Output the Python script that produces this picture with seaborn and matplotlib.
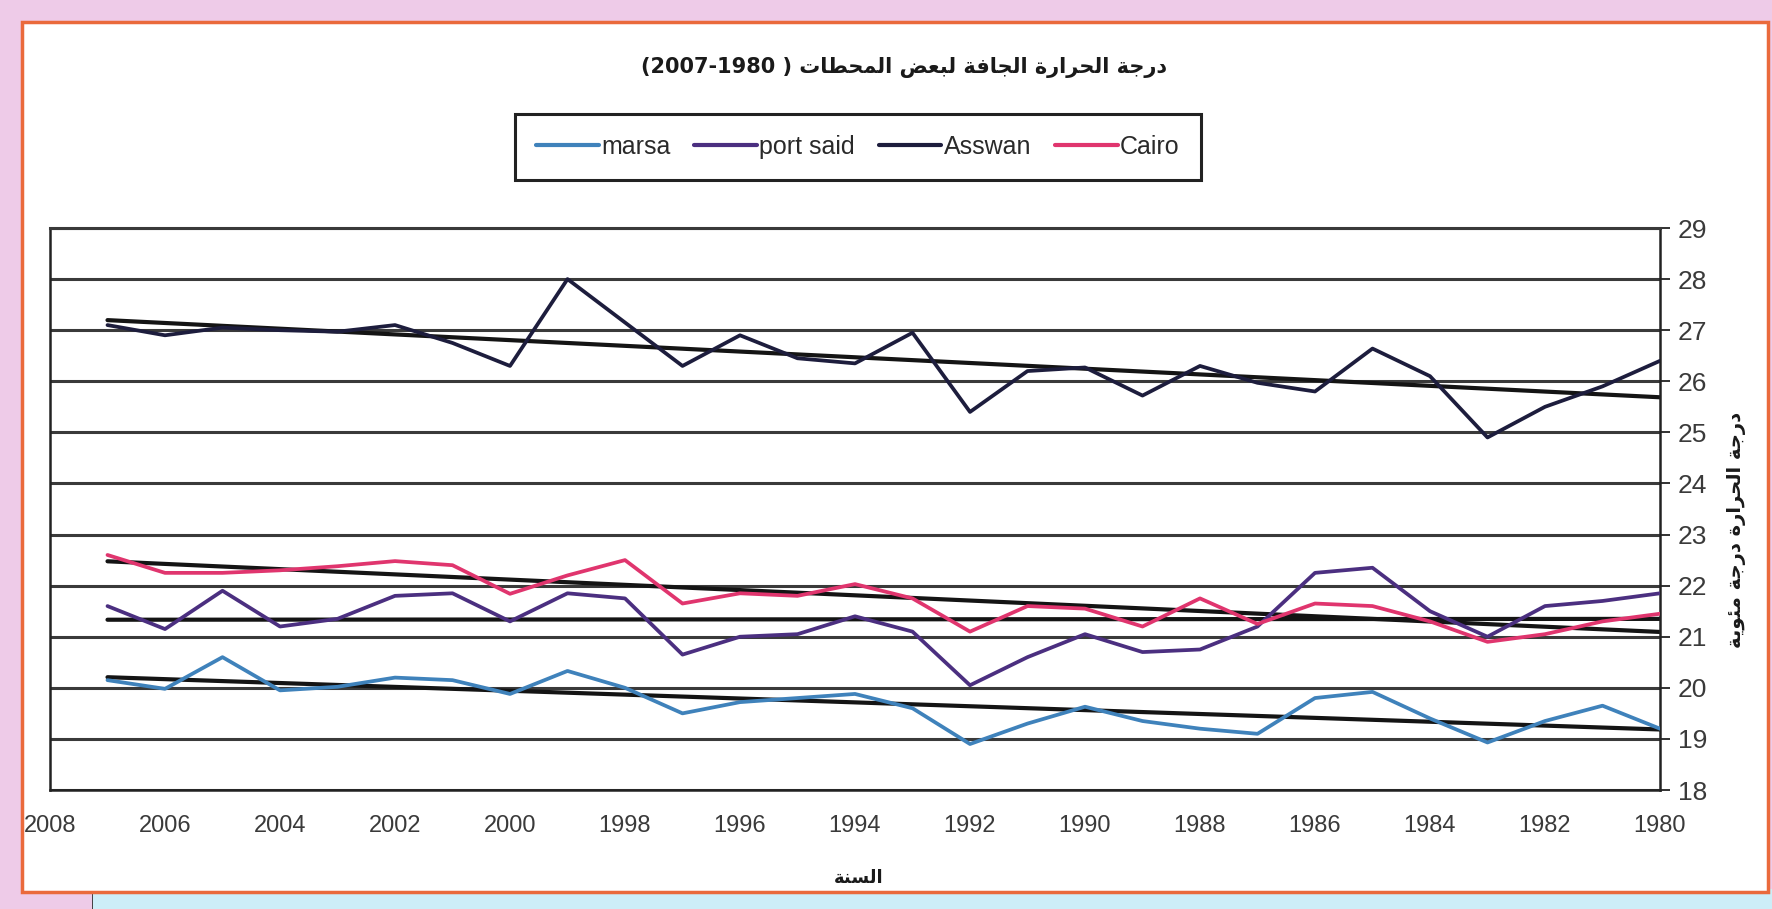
import numpy as np
import pandas as pd
import matplotlib
matplotlib.use("Agg")
from matplotlib import pyplot as plt
from matplotlib.patches import Rectangle
import seaborn as sns

# yearly dry temperature per station
years = list(range(1980, 2008))
marsa = [19.2, 19.65, 19.35, 18.93, 19.4, 19.92, 19.8, 19.1, 19.2, 19.35,
         19.63, 19.3, 18.9, 19.6, 19.88, 19.8, 19.72, 19.5, 20.0, 20.33,
         19.88, 20.15, 20.2, 20.02, 19.95, 20.6, 19.98, 20.15]
port_said = [21.85, 21.7, 21.6, 21.0, 21.5, 22.35, 22.25, 21.2, 20.75, 20.7,
             21.05, 20.6, 20.05, 21.1, 21.4, 21.05, 21.0, 20.65, 21.75, 21.85,
             21.3, 21.85, 21.8, 21.35, 21.2, 21.9, 21.15, 21.6]
asswan = [26.4, 25.9, 25.5, 24.9, 26.1, 26.64, 25.8, 25.97, 26.3, 25.72,
          26.27, 26.2, 25.4, 26.95, 26.35, 26.45, 26.9, 26.3, 27.15, 28.0,
          26.3, 26.75, 27.1, 26.97, 27.0, 27.05, 26.9, 27.1]
cairo = [21.45, 21.3, 21.05, 20.9, 21.3, 21.6, 21.65, 21.25, 21.75, 21.2,
         21.55, 21.6, 21.1, 21.75, 22.03, 21.8, 21.85, 21.65, 22.5, 22.2,
         21.84, 22.4, 22.48, 22.38, 22.3, 22.25, 22.25, 22.6]

stations = ["marsa", "port said", "Asswan", "Cairo"]
colors = ["#3f82bb", "#4b2f80", "#1d1d3d", "#e0356e"]
x_ticks = list(range(1980, 2009, 2))
y_ticks = list(range(18, 30))

title_ar = "درجة الحرارة الجافة لبعض المحطات"
title_years = "(2007-1980 ) "
ylabel_ar = "درجة الحرارة درجة مئوية"
xlabel_ar = "السنة"

# matplotlib has no arabic shaping, so pick presentation forms by hand
FORMS = {
    "ا": ("\uFE8D", "\uFE8E", None, None),
    "ب": ("\uFE8F", "\uFE90", "\uFE91", "\uFE92"),
    "ة": ("\uFE93", "\uFE94", None, None),
    "ت": ("\uFE95", "\uFE96", "\uFE97", "\uFE98"),
    "ج": ("\uFE9D", "\uFE9E", "\uFE9F", "\uFEA0"),
    "ح": ("\uFEA1", "\uFEA2", "\uFEA3", "\uFEA4"),
    "د": ("\uFEA9", "\uFEAA", None, None),
    "ر": ("\uFEAD", "\uFEAE", None, None),
    "س": ("\uFEB1", "\uFEB2", "\uFEB3", "\uFEB4"),
    "ض": ("\uFEBD", "\uFEBE", "\uFEBF", "\uFEC0"),
    "ط": ("\uFEC1", "\uFEC2", "\uFEC3", "\uFEC4"),
    "ع": ("\uFEC9", "\uFECA", "\uFECB", "\uFECC"),
    "ف": ("\uFED1", "\uFED2", "\uFED3", "\uFED4"),
    "ل": ("\uFEDD", "\uFEDE", "\uFEDF", "\uFEE0"),
    "م": ("\uFEE1", "\uFEE2", "\uFEE3", "\uFEE4"),
    "ن": ("\uFEE5", "\uFEE6", "\uFEE7", "\uFEE8"),
    "و": ("\uFEED", "\uFEEE", None, None),
    "ي": ("\uFEF1", "\uFEF2", "\uFEF3", "\uFEF4"),
    "ئ": ("\uFE89", "\uFE8A", "\uFE8B", "\uFE8C"),
}


def shape(txt):
    out = []
    for i, ch in enumerate(txt):
        if ch not in FORMS:
            out.append(ch)
            continue
        prev = txt[i - 1] if i > 0 else ""
        nxt = txt[i + 1] if i + 1 < len(txt) else ""
        jp = prev in FORMS and FORMS[prev][2] is not None
        jn = nxt in FORMS and FORMS[ch][2] is not None
        iso, fin, ini, med = FORMS[ch]
        if jp and jn:
            out.append(med)
        elif jp:
            out.append(fin)
        elif jn:
            out.append(ini)
        else:
            out.append(iso)
    return "".join(reversed(out))


df = pd.DataFrame({"year": years * 4,
                   "temp": marsa + port_said + asswan + cairo,
                   "station": np.repeat(stations, len(years))})

sns.set_style("white")
plt.rcParams["font.family"] = ["Liberation Sans", "DejaVu Sans"]

W, H = 1772, 909
fig = plt.figure(figsize=(W / 100, H / 100), dpi=100, facecolor="#eecbe8")
# chart area with orange border, light blue strip below
fig.patches.append(Rectangle((93 / W, 0), 1 - 93 / W, 20 / H, transform=fig.transFigure,
                             facecolor="#cdeef8", edgecolor="none", zorder=-2))
fig.lines.append(plt.Line2D([93 / W, 93 / W], [0, 20 / H], transform=fig.transFigure,
                            color="#333333", lw=2, zorder=-2))
fig.patches.append(Rectangle((22 / W, 1 - 892 / H), (1768 - 22) / W, (892 - 22) / H,
                             transform=fig.transFigure, facecolor="white",
                             edgecolor="#ea6a3c", lw=2.5, zorder=-1))

ax = fig.add_axes([50 / W, 1 - 790 / H, (1660 - 50) / W, 562 / H])
ax.set_zorder(2)
ax.set_facecolor("white")

# linear trend lines first, under the data
for name, vals in zip(stations, [marsa, port_said, asswan, cairo]):
    coef = np.polyfit(years, vals, 1)
    ends = [years[0], years[-1]]
    ax.plot(ends, np.polyval(coef, ends), color="#141414", lw=3.0, zorder=2)

sns.lineplot(data=df, x="year", y="temp", hue="station", hue_order=stations,
             palette=colors, lw=2.7, ax=ax, zorder=3)

ax.set_xlim(2008, 1980)
ax.set_ylim(18, 29)
ax.set_xticks(x_ticks)
ax.set_yticks(y_ticks)
ax.yaxis.tick_right()
ax.grid(axis="y", color="#3a3a3a", lw=2.2)
ax.set_axisbelow(True)
ax.set_xlabel("")
ax.set_ylabel("")
for side in ["left", "right", "bottom"]:
    ax.spines[side].set_color("#222222")
    ax.spines[side].set_linewidth(1.8)
ax.spines["top"].set_color("#3a3a3a")
ax.spines["top"].set_linewidth(2.2)
ax.tick_params(axis="x", direction="out", length=8, width=1.3, color="#222222",
               labelsize=17, labelcolor="#3a3a3a", pad=10)
ax.tick_params(axis="y", direction="out", length=7, width=1.3, color="#222222",
               labelsize=19, labelcolor="#3a3a3a", pad=6, right=True, left=False)

handles, labels = ax.get_legend_handles_labels()
for h in handles:
    h.set_linewidth(3)
leg = ax.legend(handles, labels, loc="center", bbox_to_anchor=(858 / W, 1 - 147 / H),
                bbox_transform=fig.transFigure, ncol=4, frameon=True, fancybox=False,
                framealpha=1, edgecolor="#222222", fontsize=18, handlelength=2.5,
                handletextpad=0.1, columnspacing=0.95, borderpad=0.85, borderaxespad=0)
leg.get_frame().set_linewidth(2.2)
for t in leg.get_texts():
    t.set_color("#2a2a2a")

fig.text(904 / W, 1 - 68 / H, title_years + shape(title_ar), ha="center", va="center",
         fontsize=15, fontweight="bold", family=["DejaVu Sans"], color="#1a1a1a")
fig.text(1737 / W, 1 - 530 / H, shape(ylabel_ar), ha="center", va="center", rotation=90,
         fontsize=14, fontweight="bold", family=["DejaVu Sans"], color="#1a1a1a")
fig.text(859 / W, 1 - 878 / H, shape(xlabel_ar), ha="center", va="center",
         fontsize=13, fontweight="bold", family=["DejaVu Sans"], color="#1a1a1a")

fig.savefig("out.png", dpi=100, facecolor=fig.get_facecolor())
